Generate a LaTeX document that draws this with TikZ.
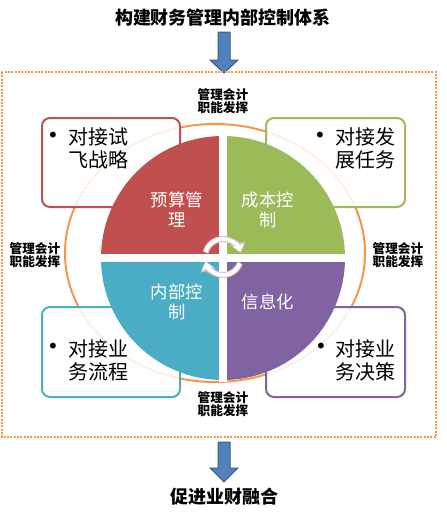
\documentclass[tikz,border=0pt]{standalone}
\usepackage{fontspec}
\setmainfont{Noto Sans CJK SC}
\newfontfamily\dotfont{DejaVu Sans}
\usepackage{tikz}
\usetikzlibrary{calc}
\usetikzlibrary{arrows.meta}
\definecolor{budgetred}{HTML}{C0504D}
\definecolor{costgreen}{HTML}{9BBB59}
\definecolor{controlblue}{HTML}{4BACC6}
\definecolor{infopurple}{HTML}{8064A2}
\definecolor{ringorange}{HTML}{F79646}
\definecolor{arrowblue}{HTML}{4F81BD}
\definecolor{arrowline}{HTML}{385D8A}
\definecolor{cycleline}{RGB}{222,196,200}
\tikzset{
  goalbox/.style={draw=#1,line width=1.5pt,rounded corners=6pt,fill=white,fill opacity=0.85},
  goaltext/.style={anchor=west,align=left,inner sep=0pt,font=\fontsize{15}{17.25}\selectfont},
  bullet/.style={inner sep=0pt,font=\dotfont\fontsize{15}{17.25}\selectfont},
  quadtext/.style={align=center,inner sep=0pt,text=white,font=\fontsize{13}{15}\selectfont},
  roletext/.style={align=center,inner sep=0pt,font=\bfseries\fontsize{9.5}{10}\selectfont},
  headtext/.style={inner sep=0pt,font=\bfseries\fontsize{13.5}{15}\selectfont},
  blockarrow/.style={fill=arrowblue,draw=arrowline,line width=0.75pt},
}

\begin{document}
\begin{tikzpicture}[x=0.75pt,y=0.75pt]
    \useasboundingbox (0,0) rectangle (447,-512);
    % head and foot
    \node[headtext] (build) at (223,-18) {构建财务管理内部控制体系};
    \node[headtext] (merge) at (225,-497) {促进业财融合};
    \draw[blockarrow] (218,-32) -- (230,-32) -- (230,-60) -- (238,-60) -- (224,-73) -- (210,-60) -- (218,-60) -- cycle;
    \draw[blockarrow] (218,-442) -- (230,-442) -- (230,-468) -- (238,-468) -- (224,-482) -- (210,-468) -- (218,-468) -- cycle;
    % frame and ring
    \draw[ringorange, line width=1.5pt, dash pattern=on 1.5pt off 1pt] (2,-72) rectangle (436,-437);
    \draw[ringorange, line width=1.5pt] (215,-253) ellipse [x radius=150, y radius=129];
    % goal boxes
    \draw[goalbox=budgetred] (42,-118) rectangle (180,-207);
    \draw[goalbox=costgreen] (266,-118) rectangle (405,-207);
    \draw[goalbox=controlblue] (42,-307) rectangle (180,-397);
    \draw[goalbox=infopurple] (266,-307) rectangle (405,-397);
    \node[bullet] (bul1) at (53,-137) {•};
    \node[goaltext] (goal1) at (68,-148.5) {对接试\\飞战略};
    \node[bullet] (bul2) at (320,-137) {•};
    \node[goaltext] (goal2) at (335,-148.5) {对接发\\展任务};
    \node[bullet] (bul3) at (53,-348) {•};
    \node[goaltext] (goal3) at (68,-360) {对接业\\务流程};
    \node[bullet] (bul4) at (321,-348) {•};
    \node[goaltext] (goal4) at (335,-360) {对接业\\务决策};
    % pie
    \coordinate (pc) at (223,-258);
    \fill[budgetred] (pc) -- ++(180:122) arc[start angle=180,end angle=90,radius=122] -- cycle;
    \fill[costgreen] (pc) -- ++(90:122) arc[start angle=90,end angle=0,radius=122] -- cycle;
    \fill[infopurple] (pc) -- ++(0:122) arc[start angle=0,end angle=-90,radius=122] -- cycle;
    \fill[controlblue] (pc) -- ++(-90:122) arc[start angle=-90,end angle=-180,radius=122] -- cycle;
    \draw[white, line width=6pt] ($(pc)+(0,124)$) -- ($(pc)+(0,-124)$);
    \draw[white, line width=6pt] ($(pc)+(-124,0)$) -- ($(pc)+(124,0)$);
    \node[quadtext] (budget) at (177,-210) {预算管\\理};
    \node[quadtext] (cost) at (268,-210) {成本控\\制};
    \node[quadtext] (inner) at (177,-302) {内部控\\制};
    \node[quadtext] (info) at (268,-302) {信息化};
    % cycle arrows
    \coordinate (cc) at (223,-257);
    \foreach \c/\w/\l/\b in {cycleline/4.5pt/7pt/11pt, white/2.8pt/5.5pt/8.5pt} {
        \draw[\c, line width=\w, -{Triangle[length=\l,width=\b]}] ($(cc)+(165:18)$) arc[start angle=165,end angle=15,radius=18];
        \draw[\c, line width=\w, -{Triangle[length=\l,width=\b]}] ($(cc)+(-20:18)$) arc[start angle=-20,end angle=-165,radius=18];
    }
    % roles
    \node[roletext] (roletop) at (223,-101) {管理会计\\职能发挥};
    \node[roletext] (rolebottom) at (223,-404) {管理会计\\职能发挥};
    \node[roletext] (roleleft) at (35,-255) {管理会计\\职能发挥};
    \node[roletext] (roleright) at (398,-255) {管理会计\\职能发挥};
\end{tikzpicture}
\end{document}
